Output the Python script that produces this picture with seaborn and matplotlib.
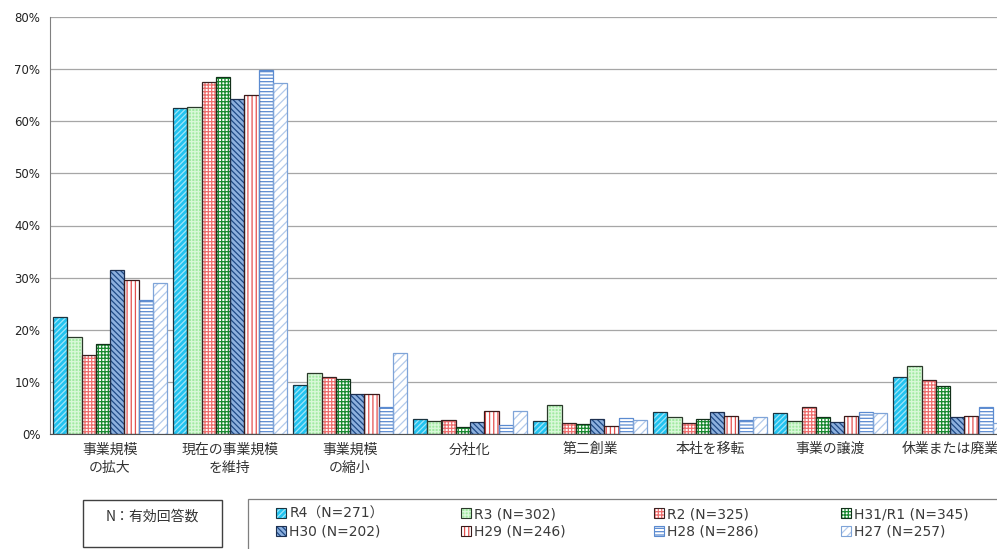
import pandas as pd
import matplotlib.pyplot as plt
import seaborn as sns
from matplotlib.patches import Patch, Rectangle
from matplotlib.ticker import FixedLocator, FuncFormatter

# categories and survey waves
categories = ["事業規模\nの拡大", "現在の事業規模\nを維持", "事業規模\nの縮小", "分社化",
              "第二創業", "本社を移転", "事業の譲渡", "休業または廃業"]
series = ["R4（N=271）", "R3 (N=302)", "R2 (N=325)", "H31/R1 (N=345)",
          "H30 (N=202)", "H29 (N=246)", "H28 (N=286)", "H27 (N=257)"]

# percentages
r4 = [22.4, 62.6, 9.4, 2.8, 2.4, 4.2, 4.0, 10.9]
r3 = [18.7, 62.8, 11.7, 2.4, 5.6, 3.2, 2.4, 13.1]
r2 = [15.2, 67.6, 10.9, 2.6, 2.1, 2.1, 5.1, 10.4]
h31 = [17.2, 68.4, 10.6, 1.3, 1.9, 2.8, 3.3, 9.3]
h30 = [31.5, 64.2, 7.7, 2.3, 2.8, 4.2, 2.3, 3.3]
h29 = [29.5, 65.0, 7.6, 4.4, 1.5, 3.5, 3.5, 3.5]
h28 = [25.8, 69.9, 5.2, 1.7, 3.0, 2.7, 4.3, 5.1]
h27 = [29.0, 67.4, 15.5, 4.5, 2.6, 3.3, 4.1, 2.2]
values = [r4, r3, r2, h31, h30, h29, h28, h27]

# face, hatch, hatch colour, outline colour
styles = [
    ("#22C3F0", "//////", "#9FE6FA", "#1A3440"),
    ("#A2EAA2", "+++++", "#D9F8D9", "#2A3A2A"),
    ("#FFFFFF", "+++++", "#EE6E6E", "#3A2222"),
    ("#FFFFFF", "+++++", "#17882E", "#12301A"),
    ("#8DB0DE", "\\\\\\\\\\\\", "#1F4A86", "#1E3050"),
    ("#FFFFFF", "||||", "#E5504F", "#3A1A1A"),
    ("#FFFFFF", "-----", "#5B8BD0", "#5B8BD0"),
    ("#FFFFFF", "////", "#B3CAEB", "#7FA4D8"),
]

rows = []
for s, vals in zip(series, values):
    for c, v in zip(categories, vals):
        rows.append({"category": c, "series": s, "value": v})
df = pd.DataFrame(rows)

sns.set_style("white")
plt.rcParams["font.family"] = ["DejaVu Sans", "Noto Sans CJK JP"]
plt.rcParams["hatch.linewidth"] = 0.9

fig = plt.figure(figsize=(9.97, 5.49), dpi=100)
ax = fig.add_axes([50 / 997, 1 - 434 / 549, 960 / 997, 417 / 549])

sns.barplot(data=df, x="category", y="value", hue="series", order=categories,
            hue_order=series, width=0.95, gap=0, errorbar=None, legend=False, ax=ax)

for cont, (face, hatch, hcol, ocol) in zip(ax.containers, styles):
    for bar in cont:
        bar.set_facecolor(face)
        bar.set_hatch(hatch)
        bar.set_edgecolor(hcol)
        bar.set_linewidth(0)
        ax.add_patch(Rectangle((bar.get_x(), bar.get_y()), bar.get_width(), bar.get_height(),
                               fill=False, edgecolor=ocol, linewidth=0.9, zorder=bar.get_zorder() + 0.1))

ax.set_xlim(-0.5, len(categories) - 0.5)
ax.set_ylim(0, 80)
ax.set_yticks(range(0, 81, 10))
ax.yaxis.set_major_formatter(FuncFormatter(lambda v, p: f"{v:.0f}%"))
ax.set_axisbelow(True)
ax.grid(axis="y", color="#A6A6A6", linewidth=0.9)
ax.set_xlabel("")
ax.set_ylabel("")

for side in ["top", "right"]:
    ax.spines[side].set_visible(False)
ax.spines["left"].set_color("#808080")
ax.spines["bottom"].set_color("#505050")

ax.tick_params(axis="y", length=4, color="#808080", labelsize=8.5, labelcolor="#222222", pad=3)
ax.tick_params(axis="x", which="major", length=0, pad=6, labelsize=10, labelcolor="#333333")
ax.xaxis.set_minor_locator(FixedLocator([i + 0.5 for i in range(-1, len(categories))]))
ax.tick_params(axis="x", which="minor", length=3, color="#808080")
for lab in ax.get_xticklabels():
    lab.set_family(["Noto Sans CJK JP", "DejaVu Sans"])
    lab.set_linespacing(1.45)

# legend frame, cut by the right and bottom edges like the original
fig.add_artist(Rectangle((248 / 997, -0.1), 1.0, 0.1 + 1 - 499 / 549, transform=fig.transFigure,
                         fill=False, edgecolor="#7F7F7F", linewidth=0.9))
fig.add_artist(Rectangle((83 / 997, 1 - 547 / 549), 139 / 997, 47 / 549, transform=fig.transFigure,
                         fill=False, edgecolor="#404040", linewidth=1.0))
fig.text(152 / 997, 1 - 517 / 549, "N：有効回答数", ha="center", va="center", fontsize=10,
         color="#333333", family=["Noto Sans CJK JP", "DejaVu Sans"])

handles = []
for face, hatch, hcol, ocol in styles:
    handles.append((Patch(facecolor=face, hatch=hatch, edgecolor=hcol, linewidth=0),
                    Patch(fill=False, edgecolor=ocol, linewidth=0.8)))

col_x = [276, 461, 654, 841]
for j, x in enumerate(col_x):
    fig.legend(handles=[handles[j], handles[j + 4]], labels=[series[j], series[j + 4]],
               loc="upper left", bbox_to_anchor=(x / 997, 1 - 507 / 549), frameon=False,
               borderpad=0, borderaxespad=0, handlelength=0.75, handleheight=0.75,
               handletextpad=0.2, labelspacing=0.25,
               prop={"size": 10, "family": ["DejaVu Sans", "Noto Sans CJK JP"]},
               labelcolor="#3A3A3A")

fig.savefig("out.png", dpi=100)
